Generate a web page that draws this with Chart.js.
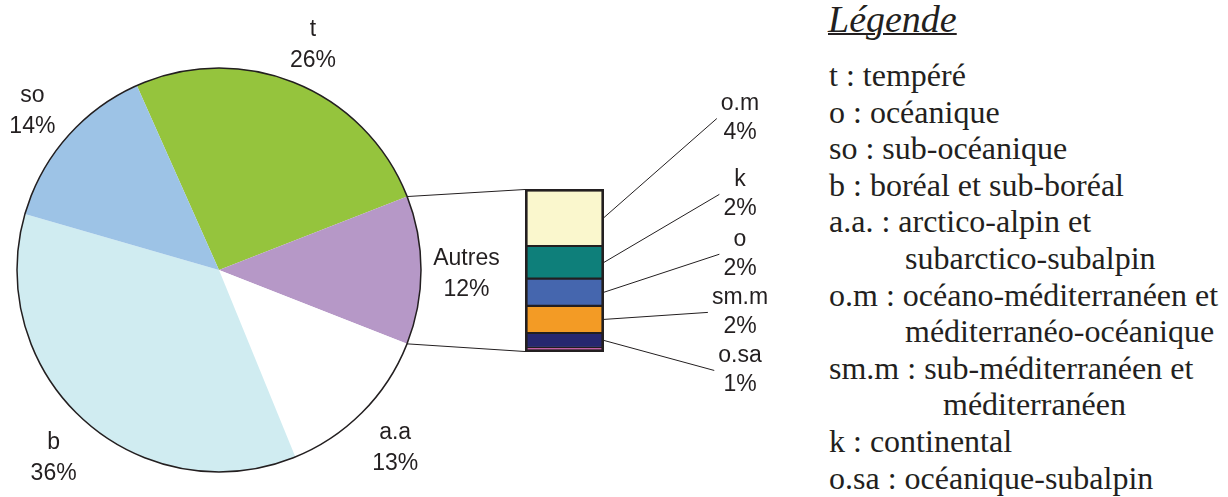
<!DOCTYPE html>
<html>
<head>
<meta charset="utf-8">
<script src="https://cdn.jsdelivr.net/npm/chart.js@4.4.0/dist/chart.umd.min.js"></script>
<style>
    html, body { margin: 0; padding: 0; background: #fff; }
    #wrap { position: relative; width: 1228px; height: 497px; overflow: hidden; }
    #wrap canvas { position: absolute; left: 0; top: 0; }
    #legend { position: absolute; left: 829px; top: 0; font-family: "Liberation Serif", "Times New Roman", serif; color: #231f20; }
    #legend .title { position: absolute; top: -3px; left: -1px; margin: 0; font-size: 38px; line-height: 44px; font-style: italic; text-decoration: underline; text-decoration-thickness: 1.5px; white-space: nowrap; }
    #legend ul { position: absolute; top: 57px; left: 0; margin: 0; padding: 0; list-style: none; font-size: 32px; line-height: 36.6px; white-space: nowrap; }
    #legend .in1 { padding-left: 76px; }
    #legend .in2 { padding-left: 114px; }
</style>
</head>
<body>
<div id="wrap">
    <canvas id="pieCanvas" width="780" height="497"></canvas>
    <canvas id="barCanvas" width="780" height="497"></canvas>
    <div id="legend">
        <div class="title">Légende</div>
        <ul>
            <li>t : tempéré</li>
            <li>o : océanique</li>
            <li>so : sub-océanique</li>
            <li>b : boréal et sub-boréal</li>
            <li>a.a. : arctico-alpin et</li>
            <li class="in1">subarctico-subalpin</li>
            <li>o.m : océano-méditerranéen et</li>
            <li class="in1">méditerranéo-océanique</li>
            <li>sm.m : sub-méditerranéen et</li>
            <li class="in2">méditerranéen</li>
            <li>k : continental</li>
            <li>o.sa : océanique-subalpin</li>
        </ul>
    </div>
</div>
<script>
// pie (main slices, clockwise from "t")
const pieLabels = ['t', 'Autres', 'a.a', 'b', 'so'];
const pieValues = [26, 12, 13, 36, 14];
const pieColors = ['#95c43d', '#b698c7', '#ffffff', '#d0ecf1', '#9dc3e6'];

// breakdown of "Autres", top to bottom
const barLabels = ['o.m', 'k', 'o', 'sm.m', 'o.sa', ''];
const barValues = [4.2, 2.4, 2.0, 2.0, 1.1, 0.3];
const barColors = ['#faf7cd', '#0e7f7a', '#4566ae', '#f39b25', '#27276f', '#c35fa5'];

const INK = '#231f20';
const LABEL_FONT = '23px "Liberation Sans", Arial, sans-serif';
// vertical shift of each callout block from its segment centre
const calloutShift = [-99, -68, -38, -7, 30];

function twoLines(ctx, x, y, a, b, gap) {
    ctx.fillText(a, x, y - gap / 2);
    ctx.fillText(b, x, y + gap / 2);
}

/* ─── pie: outline + outside labels ─── */
const pieDecor = {
    id: 'pieDecor',
    afterDatasetsDraw(chart) {
        const ctx = chart.ctx;
        const arcs = chart.getDatasetMeta(0).data;
        const c = arcs[0];
        ctx.save();
        ctx.beginPath();
        ctx.arc(c.x, c.y, c.outerRadius, 0, Math.PI * 2);
        ctx.lineWidth = 1.5;
        ctx.strokeStyle = INK;
        ctx.stroke();

        ctx.font = LABEL_FONT;
        ctx.fillStyle = INK;
        ctx.textAlign = 'center';
        ctx.textBaseline = 'middle';
        arcs.forEach(function(a, i) {
            const mid = (a.startAngle + a.endAngle) / 2;
            const r = a.outerRadius * 1.225;
            twoLines(ctx, a.x + r * Math.cos(mid), a.y + r * Math.sin(mid) + 4,
                pieLabels[i], pieValues[i] + '%', 31);
        });
        ctx.restore();
    }
};

const pieChart = new Chart(document.getElementById('pieCanvas'), {
    type: 'pie',
    data: {
        labels: pieLabels,
        datasets: [{ data: pieValues, backgroundColor: pieColors, borderWidth: 0 }]
    },
    options: {
        responsive: false,
        animation: false,
        rotation: -24,
        layout: { padding: { left: 17, top: 68, right: 359, bottom: 25 } },
        plugins: { legend: { display: false }, tooltip: { enabled: false } }
    },
    plugins: [pieDecor]
});

/* ─── stacked bar: connectors, leaders, labels ─── */
const barDecor = {
    id: 'barDecor',
    afterDatasetsDraw(chart) {
        const ctx = chart.ctx;
        const n = barValues.length;
        // dataset order is bottom-up, so top-down index i lives at n-1-i
        const seg = function(i) { return chart.getDatasetMeta(n - 1 - i).data[0]; };
        const top = seg(0), bottom = seg(n - 1);
        const left = top.x - top.width / 2, right = top.x + top.width / 2;
        const yTop = top.y, yBottom = bottom.base;

        ctx.save();
        ctx.strokeStyle = INK;
        ctx.lineWidth = 2.6;
        ctx.strokeRect(left + 1.3, yTop + 1.3, right - left - 2.6, yBottom - yTop - 2.6);

        // lines from the "Autres" slice to the bar
        const other = pieChart.getDatasetMeta(0).data[1];
        ctx.lineWidth = 1;
        ctx.beginPath();
        ctx.moveTo(other.x + other.outerRadius * Math.cos(other.startAngle), other.y + other.outerRadius * Math.sin(other.startAngle));
        ctx.lineTo(left, yTop + 0.5);
        ctx.moveTo(other.x + other.outerRadius * Math.cos(other.endAngle), other.y + other.outerRadius * Math.sin(other.endAngle));
        ctx.lineTo(left, yBottom - 0.5);
        ctx.stroke();

        ctx.font = LABEL_FONT;
        ctx.fillStyle = INK;
        ctx.textAlign = 'center';
        ctx.textBaseline = 'middle';
        const labelX = right + 136;
        for (let i = 0; i < n; i++) {
            if (!barLabels[i]) continue;
            const s = seg(i);
            const cy = (s.y + s.base) / 2;
            const ly = cy + calloutShift[i];
            const pct = Math.round(barValues[i]) + '%';
            const half = Math.max(ctx.measureText(barLabels[i]).width, ctx.measureText(pct).width) / 2;
            ctx.beginPath();
            ctx.moveTo(right, cy);
            ctx.lineTo(labelX - half - 4, ly);
            ctx.stroke();
            twoLines(ctx, labelX, ly, barLabels[i], pct, 29);
        }
        ctx.restore();
    }
};

const barTotal = barValues.reduce(function(s, v) { return s + v; }, 0);

new Chart(document.getElementById('barCanvas'), {
    type: 'bar',
    data: {
        labels: ['Autres'],
        datasets: barValues.map(function(v, i) { return i; }).reverse().map(function(i) {
            return {
                label: barLabels[i] || 'autre',
                data: [barValues[i]],
                backgroundColor: barColors[i],
                borderColor: INK,
                borderWidth: barLabels[i] ? 1.4 : 0.5,
                borderSkipped: false,
                barPercentage: 1,
                categoryPercentage: 1
            };
        })
    },
    options: {
        responsive: false,
        animation: false,
        layout: { padding: { left: 525, right: 176, top: 189, bottom: 145 } },
        scales: {
            x: { stacked: true, display: false },
            y: { stacked: true, display: false, min: 0, max: barTotal }
        },
        plugins: { legend: { display: false }, tooltip: { enabled: false } }
    },
    plugins: [barDecor]
});
</script>
</body>
</html>
